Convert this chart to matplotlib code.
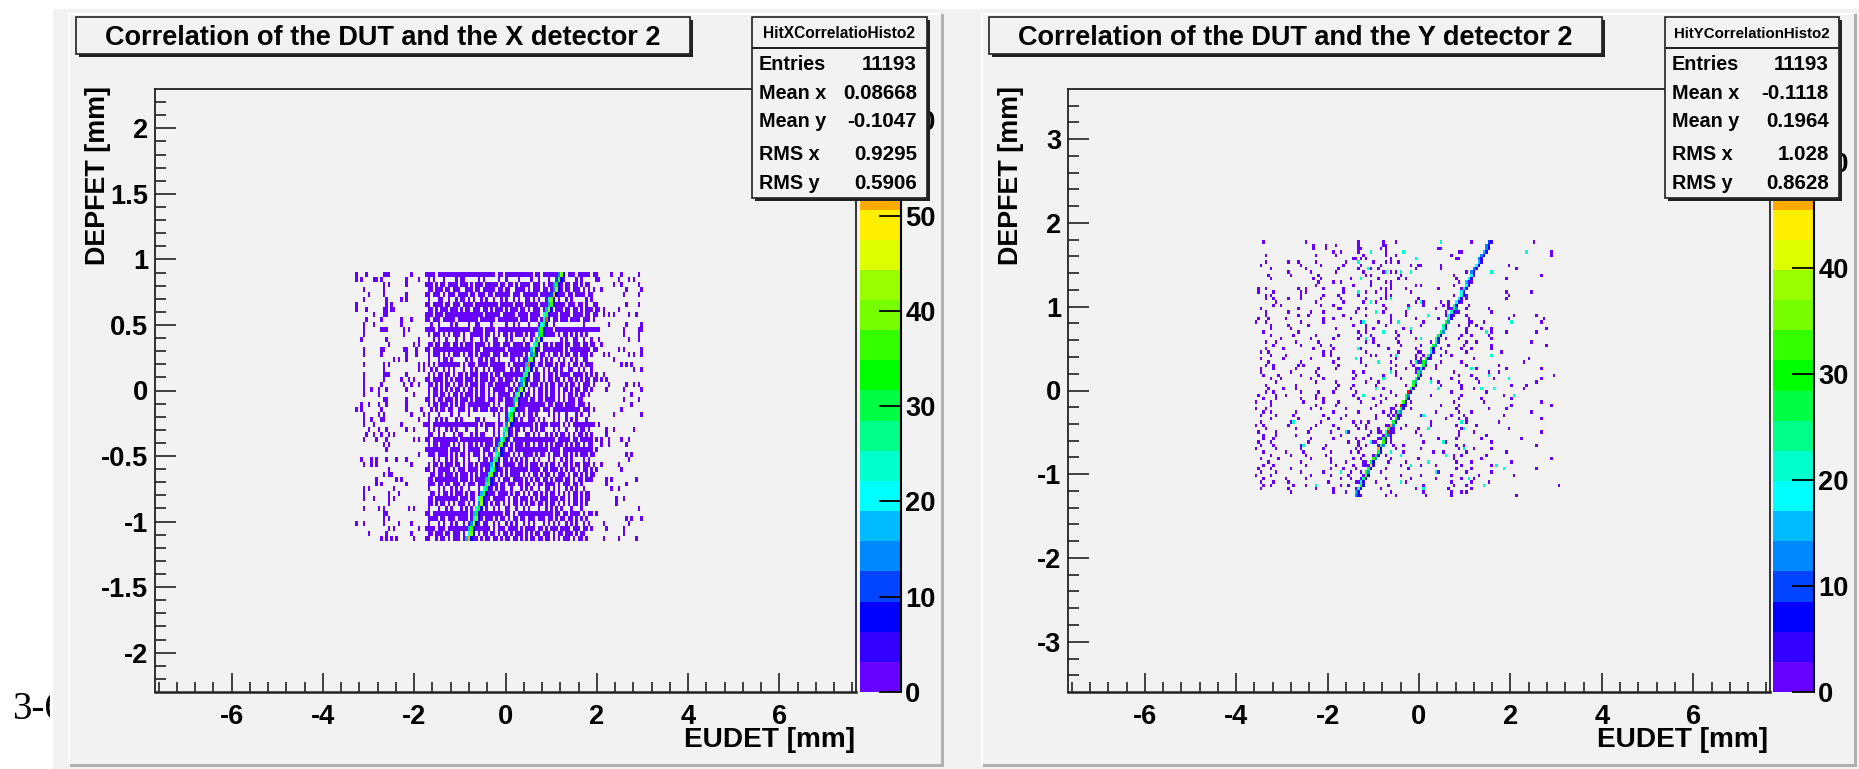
import numpy as np
import matplotlib
matplotlib.use("Agg")
import matplotlib.pyplot as plt
from matplotlib.colors import ListedColormap, BoundaryNorm
from matplotlib.patches import Rectangle

W, H = 1859, 769
GREY = "#f2f2f2"

palette = ["#6600ff", "#3300ff", "#0000ff", "#0044ff", "#0088ff", "#00bbff", "#00ffff",
           "#00ffcc", "#00ff88", "#00ff44", "#00ff00", "#33ff00", "#77ff00", "#99ff00",
           "#ddff00", "#ffee00", "#ffaa00", "#ff7700", "#ff4400", "#ff0000"]

# left histogram, one string per row from the top: outer left | core | outer right
x_rows = [
    "#...#......###........#.....|####.#######################.##.###########.##.#######.#.###.#####.###|.....#...#......#.",
    "#.#....##.#.........#....#..|.#.#...#....#.##.....#.#.....#..#....#....#..#...#.....#....#.#.....#.|#.......#...#.#...",
    "...........#.#......#.......|###.#.##.####.###.#.###.#####.##.##.#.####.###.#.####.#.##.##.#.##....|......#..#......#.",
    "...#.......#................|.##.###.##.###..###.##.#####.##.##..####.#.###.##.#.###.##.###.#.#.#..|.#.........#.....#",
    ".....#.....#........#.......|##.###.#.###.####.##.###.##.######.###.######.#####.####.##.####.##...|..........#.....#.",
    "...#........#.....#.#.......|.#...##..#..#.##.#.#..#.#..#..#.#..#.#..##.#.#..#.#..#..#.#.....#.#...|.................",
    "#...........#.#.............|##.####.##.###.####.#########.#####.###.#####.###.#.####.###.##.#..##.|...........#....#.",
    "#...#......##.##............|.##.#.###.###.#.##.###.##.#.###.#.###.##.#.###.##.#.###.##.##.#.###.#.|#.#.....#.........",
    ".......#...##...............|###.###.###############.######.#####.####.####.######.####.####.##.##.|..#.#.#.....#..#.",
    "....#.....#.......#...#.....|##.###.#####.########.######.########.###.###.####.##.###.####.###.#..|..................",
    "...#...#..........#.........|..#..#....#.#....#..##....#.....#..#.#...#...#.....#...........#.....#|....#......#.....#",
    "...#......###......#.#......|####.#############.####.####.##################.###.####################|#.........#.....##",
    "...#...............#........|.#.###.#.#.###.#..#####.##.#.#.##.#.###.#.##..#.####.#.##.#.#.#.#.....|..........#.....#.",
    "..#.........#............#..|...#.#..#...#..#..#...#.#..##...#.#....#..#.#.#.......#.#..##..#..#...|#...........#...#.",
    ".............#.........#.#..|.##.##.###.##.#.###.####.#.###.###.####.##.###.##.#.###.##.###.##.##..|.#................",
    "...#......##.......##...#...|##.################.##.#########.#############.########.#.########.##|........#.#......#",
    "...#......#.........#...#...|.#.###.#.#.###.#.##.#.####.###.##.#####.#.###.##.#.##.#.##.##.###.#...|..#.#.......#.#..#",
    "...............#.#..#.......|.#...#.##.#.....#.#..##.#.##.#....##.#.##.#...#.#.#..#.#..#.#..##.....|......#...........",
    "...#.......#.#...........#.#|.#.#.#########.#.###.####.######.#.#######.#.##.###.#.##.#.##.#.###...|.........#.#.#....",
    "...........#.............#.#|..#.#..#.#.#...#..#.#..#.#.#####..#.##.#.#..#..#.#.##.#..##..#.#..#...|..............#..#",
    "...#.......###......#.......|.#.#.##.##.#.##.#.###.###.#.##.###########.###.#.##.#.####.####.#.#.#.|..#...............",
    "...#.......#......#..#.#....|##.####.#.#.###.###.#.###.##.##.###.#.####.###.#.##.##.#.##.#.#.##.##.|.#.#..............",
    "...#......#........#..#..#..|.##.#.#.##.#.##.#.###.##.##.######.#.##.#.###.#.#.##.##.#.##.#.###.#..|....#......#..#.#.",
    "...#..#..#..#.......#.......|.#.##.#.#.#.##.#.##.#.##.#.#####.##.#.##.#.#.##.#.##.#.##.#.##.##.#...|...#......#......#",
    "...#.....#.............#....|.#.##.##.#.##.#.###.#.##.#.#.#####.#.##.##.#.##.#.##.#.#.##.#.##.#....|.............#....",
    "...........##.......#.......|##.#.##.###.#.###.#.####.###.##.####.####.##.##.####.#.#.###.##.......|..........#.....#.",
    "..#..#...#..#.......#.......|.#.##.###.#.#.##.#########.#.#..####.###########.##.###.####.###.#....|.............#....",
    "#.#.......#.........#.....#.|..#.#.##.##..###.#.##.###.###.#.#.######.#####.###.###########.###.#..|.........#........",
    "...#.....#.#..........#....#|.#...#....#..#...#.........#.#..#.#..#.#.##.#....#.#.#..#...#.#..#....|......#..........#",
    "...#..#...##.............#..|.#..#.#.#...#.#.....##.#.....#..#.#.#.#..###.#.#...#.#..#.#.#...#.....|..................",
    "...#...#..........#........#|##.##################.#.####.##.###########.#.###.####.#.#.#########.#.|#.................",
    ".....#...#..#.......#..#....|.#.#.#..#.#.#...#...#...#..#.#..#.#.##.#..#.#.##...#.#..#...#.##.#....|...#..#.......#...",
    "....#..#..#..#.#............|.##..#.#...#.##...#.#.##...#.#.#.##.#...##.#.#..#.#.#.##.#.#.##.#.#...|...#..............",
    "...#....#...#..........#.#..|##.##########.#############.####.#.#################.#####.##.#####.##|.#..#....#..#.....",
    "...........#.#..............|.#.##.####.#.#.#.##.#.#.###.##.##.#.###.##.#.##.#.#.###.#.#.##.#.##...|.#..#......#......",
    "............#...............|#########.####.#.#####.###.#.###.##.#############.####.############.##|..................",
    ".........................#..|.###.####.#.#.##.#.###.#.##.#.####.#.#.####.#.##.#.###.##.#.#.###.##..|...........#.#....",
    "..#...#.#...#...#...#.......|...#.#..#.#.#..#.#...#.##.#....##.#.#.#.#..#.#...#.#..#.#.#....#.#....|............#.....",
    "...#..#.#.............#.....|.#.##.#.###.##.#.##.#.####.#.#.#####.##.#.###.#.#.##.#.##.#.##.###.#..|.#......#.........",
    ".............#..............|##.#.#####.#.###.####.#.###.###.#.#######.####.##.###.#.#.##.#.##.#.##|.........#........",
    "...........#.##.............|..##.##.###.#.###.#.#.####.##.#.#.####.#.#.##.#.##.#.###.#.##.#.#.##..|..................",
    "........#.......#.#.........|.##.#########.###.#.########.#.###.####.#.#.##.##.#.###.##.#.##.###...|...#.#.........#..",
    "........#.#.........#.......|.###.##.##.###.#.###.###.#.##.##.###.##.##.#.##.####.#.###.##.#.......|...#.......#......",
    "...#.#.........#............|.#...#.#..#.#.#..#...#.##.#.#.##..#...#.#.#..#..##.#.#..#.#.#..#......|.....#..#.........",
    "...#.........#...#..........|..##.#.##.#.###.#.##.#.#####.####.#.##.#.#.##.#.#.##.#.#.#.##.#.##....|..................",
    "...#...#.....#.#............|.##.#########.###.##.#####.#####.#.##.###.#.#.###.###.##.#.##.#.##....|.......#..#.......",
    ".............#..............|.##.#.##.#.#.###.#.#.##.#.#.##.#.#.##.#.#.##.##.#.##.#.#.#.##.#.#.....|.......#..........",
    "...#.....#.#.........#.#....|.#...#..#.#...#.#.#.....#..#.#..##..#..#.#...#..#.#.#.#...#...#.......|................#.",
    "...........##...............|##.##############.#.###########.##.#.##############.##.##.####.#.##.#.|..................",
    "...........#.#..............|.####.##.###.####.#.###.###.#.##.#.##.##.###.###.##.#.##.##.#.#.#.....|...........#.#...#",
    "#..#.......#.....#....#.....|.#...#.#..#.#..#.#...#.##..#.#..#.#.#..#.#.#...#.#.#.#..#.#.#..#.#....|..#.........#.....",
    ".............#.#.........#..|####.###.#################.#.###.####.#.####.##.#.###.####.###.##.#..#|...#......#.......",
    ".....#......#.........#.....|.##.###.##.###.#.###.#.##.##.#.##.#.###.#.#.##.###.#.##.###.#.##......|..........#.......",
    "..........#.#.#.#......#....|##..#.##.#.###.#.#.##.#.##.##.#.##.##.#.#.##.##.##.#.#.###.#.##.#.....|..#.....#......#..",
]

# ridge of the left histogram, per row from the top
x_ridge_col = [82, 81, 80, 80, 79, 78, 78, 77, 76, 76, 75, 74, 74, 73, 72, 71, 71, 70, 69, 69,
               68, 67, 67, 66, 65, 64, 64, 63, 62, 62, 61, 60, 60, 59, 58, 57, 57, 56, 55, 55,
               54, 53, 53, 52, 51, 50, 50, 49, 48, 48, 47, 46, 46, 45]
x_ridge_val = [40, 37, 34, 42, 52, 38, 35, 40, 36, 60, 30, 37, 34, 42, 36, 40, 34, 38, 55, 36,
               35, 33, 40, 44, 38, 35, 50, 36, 33, 40, 50, 36, 42, 33, 38, 50, 34, 36, 42, 33,
               38, 36, 40, 33, 36, 38, 42, 34, 33, 38, 42, 36, 40, 52]
x_ridge_side = [14, 12, 18, 14, 12, 20, 18, 16, 20, 22, 20, 18, 16, 18, 20, 18, 14, 20, 18, 20,
                20, 18, 14, 16, 20, 18, 14, 20, 20, 18, 14, 20, 18, 20, 16, 18, 20, 20, 18, 20,
                20, 18, 20, 20, 16, 20, 14, 20, 18, 20, 14, 18, 20, 16]

# right histogram, scattered single hits, column lists per row (first entry is row 6)
y_hits = [
    [9, 26, 47, 57, 62, 92, 117],
    [29, 34, 38, 47, 57, 58],
    [29, 34, 47, 48, 56, 58, 79, 80],
    [37, 40, 47, 58, 87, 88, 124],
    [10, 30, 38, 49, 58, 62, 84, 124],
    [45, 46, 48, 50, 60, 86, 87],
    [10, 19, 23, 30, 42, 53, 58, 60, 63],
    [8, 24, 32, 41, 48, 56, 68, 71, 72, 80, 107],
    [12, 26, 39, 47, 52, 55, 70, 80, 110],
    [19, 28, 38, 49, 57, 60, 62, 68, 90],
    [11, 20, 31, 50, 52, 64, 85, 120],
    [12, 29, 32, 44, 48, 55, 63, 66, 86, 91, 106],
    [31, 37, 40, 52, 58, 60, 87, 92],
    [30, 45, 52, 60, 70, 72, 85],
    [7, 10, 23, 26, 33, 41, 56, 58, 60, 66, 79, 88, 90],
    [7, 13, 24, 26, 41, 50, 54, 58, 68, 106, 116],
    [10, 12, 24, 33, 39, 47, 58, 60, 85, 90, 107],
    [10, 13, 19, 24, 32, 40, 50, 56, 58, 71, 90, 106],
    [14, 30, 41, 49, 54, 70, 73, 80, 83, 86, 88],
    [13, 16, 32, 37, 57, 67, 73, 81, 83, 86, 91],
    [8, 23, 39, 40, 47, 50, 58, 67, 78, 84, 90, 99],
    [10, 19, 28, 33, 46, 57, 66, 82, 85, 87, 100],
    [10, 23, 27, 41, 50, 60, 66, 82, 90, 109, 118],
    [7, 11, 18, 33, 37, 44, 60, 70, 79, 91, 107, 121],
    [6, 10, 24, 33, 48, 55, 60, 73, 91, 92, 97, 120],
    [12, 19, 27, 45, 50, 58, 72, 81, 87, 91, 94],
    [12, 20, 38, 50, 53, 65, 81, 90, 96, 100, 122],
    [9, 23, 47, 50, 62, 68, 80, 90, 100, 106, 118],
    [12, 21, 30, 39, 48, 52, 63, 79, 88, 92, 99],
    [16, 28, 37, 47, 53, 62, 70, 82, 87, 100],
    [10, 14, 22, 31, 50, 53, 63, 76, 90, 94, 116],
    [13, 24, 32, 36, 55, 64, 72, 83, 89, 100, 122],
    [10, 17, 29, 37, 48, 59, 70, 80, 88, 92, 100],
    [8, 11, 33, 36, 50, 63, 72, 82, 90, 104],
    [12, 18, 33, 36, 52, 54, 60, 70, 80, 84],
    [8, 17, 28, 39, 48, 62, 70, 76, 93, 115],
    [11, 24, 37, 48, 60, 68, 80, 88, 113],
    [10, 13, 23, 25, 39, 50, 62, 69, 78, 90, 103],
    [8, 13, 22, 31, 38, 60, 66, 78, 94, 106, 120],
    [8, 20, 30, 45, 49, 62, 70, 85, 99, 103],
    [9, 15, 24, 31, 46, 57, 62, 71, 87, 92, 125],
    [12, 16, 28, 33, 45, 52, 64, 76, 84, 94, 101, 120],
    [14, 30, 38, 50, 55, 70, 79, 87, 95, 118],
    [10, 22, 39, 45, 54, 66, 80, 88, 108, 114],
    [11, 17, 22, 38, 44, 57, 68, 88, 93, 113],
    [10, 13, 24, 31, 37, 46, 60, 68, 84, 98],
    [7, 14, 18, 30, 45, 56, 62, 76, 88, 105],
    [9, 14, 24, 30, 33, 47, 53, 58, 66, 87, 96, 108],
    [6, 12, 25, 33, 39, 48, 56, 68, 85, 97, 120],
    [12, 30, 38, 54, 66, 80, 87, 108, 124],
    [6, 10, 28, 32, 42, 52, 68, 86, 99, 106],
    [9, 12, 22, 37, 47, 57, 60, 78, 87, 92, 116],
    [8, 14, 21, 33, 42, 54, 64, 72, 84, 89, 105],
    [12, 23, 35, 40, 54, 60, 62, 82, 87, 90, 120],
    [8, 20, 32, 45, 48, 51, 62, 76, 90, 103],
    [6, 9, 19, 30, 37, 46, 50, 66, 76, 86, 94],
    [10, 22, 28, 39, 47, 50, 55, 64, 71, 88, 107],
    [7, 14, 27, 36, 43, 52, 56, 70, 87, 93, 120],
    [9, 14, 22, 40, 51, 60, 72, 87, 98],
    [9, 13, 28, 37, 46, 49, 60, 79, 86, 96, 112],
    [7, 12, 27, 43, 47, 53, 60, 73, 82, 100],
    [8, 13, 24, 34, 47, 50, 61, 65, 86, 89, 118],
    [6, 14, 24, 33, 46, 48, 62, 72, 87, 93, 100],
    [9, 18, 25, 36, 44, 47, 65, 77, 81, 90, 106],
    [12, 20, 26, 34, 49, 53, 58, 64, 85, 88, 98],
    [8, 15, 28, 36, 45, 48, 60, 71, 85, 96, 124],
    [11, 24, 36, 42, 50, 59, 66, 86, 92, 108],
    [9, 13, 26, 38, 45, 51, 64, 72, 78, 88, 100],
    [7, 12, 20, 36, 41, 46, 58, 67, 86, 92, 118],
    [8, 14, 24, 33, 44, 48, 56, 79, 90, 100],
    [6, 12, 28, 36, 43, 50, 64, 72, 84, 95, 109],
    [9, 18, 26, 40, 44, 58, 68, 78, 88, 93],
    [8, 13, 19, 35, 47, 54, 66, 84, 92, 99],
    [9, 12, 21, 26, 40, 43, 59, 73, 85, 90, 127],
    [8, 19, 30, 37, 47, 56, 70, 83, 92],
    [20, 37, 42, 47, 60, 73, 84, 88, 90],
    [47, 48, 58, 62, 74, 84, 110],
]

# clumps of low counts hugging the right ridge
y_clump_col = [83, 84, 85, 86, 84, 85, 86, 87, 85, 86, 71, 72, 73, 74, 70, 71, 72, 73, 72, 71, 73, 72, 71,
               60, 61, 62, 63, 60, 61, 62, 59, 60, 58, 59, 60, 61, 61, 60, 59, 60, 55, 56, 57, 55, 56, 54, 55,
               56, 55, 49, 50, 51, 52, 50, 51, 49, 50, 48, 49, 46, 47, 48, 46, 47, 48, 47, 46, 47]
y_clump_row = [26, 26, 26, 26, 27, 27, 27, 27, 28, 25, 42, 42, 43, 43, 44, 44, 44, 44, 45, 46, 40, 41, 39,
               56, 56, 57, 57, 57, 58, 55, 58, 59, 61, 61, 62, 62, 63, 63, 64, 65, 63, 63, 64, 65, 65, 66, 67,
               68, 69, 73, 73, 74, 74, 75, 75, 76, 76, 77, 72, 78, 78, 79, 80, 80, 80, 81, 82, 82]

# right histogram, cells of a higher count scattered around the ridge (cyan ones)
y_cyan_col = [80, 52, 65, 70, 47, 51, 48, 58, 64, 68, 100, 114, 47, 52, 60, 72, 54, 67, 75, 49,
              63, 68, 57, 72, 98, 108, 50, 47, 62, 55, 100, 46, 60, 70, 92, 99, 107, 57, 54, 76,
              101, 49, 79, 96, 109, 21, 25, 62, 73, 88, 89, 52, 58, 75, 81, 42, 60, 64, 75, 82,
              68, 102, 78, 91, 30, 89, 97, 40, 64, 73, 105]
y_cyan_row = [6, 9, 9, 11, 12, 14, 17, 15, 15, 15, 15, 9, 21, 24, 23, 24, 27, 26, 28, 30,
              30, 32, 33, 35, 33, 30, 35, 38, 40, 42, 40, 41, 45, 42, 44, 46, 47, 47, 50, 48,
              50, 52, 50, 50, 52, 60, 67, 55, 58, 60, 62, 66, 63, 62, 66, 63, 69, 70, 72, 70,
              73, 73, 75, 77, 79, 68, 79, 75, 78, 80, 74]

# ridge of the right histogram, per row starting at row 6
y_ridge_col = [99, 98, 98, 97, 96, 95, 95, 94, 93, 92, 92, 91, 90, 90, 89, 88, 88, 87, 86, 85,
               85, 84, 83, 83, 82, 81, 81, 80, 79, 78, 78, 77, 76, 76, 75, 74, 73, 73, 72, 71,
               71, 70, 69, 69, 68, 67, 66, 66, 65, 64, 64, 63, 62, 62, 61, 60, 59, 59, 58, 57,
               57, 56, 55, 55, 54, 53, 52, 52, 51, 50, 50, 49, 48, 48, 47, 46, 46]
y_ridge_val = [9, 12, 14, 16, 14, 12, 16, 18, 14, 12, 18, 20, 16, 18, 20, 18, 22, 20, 18, 22,
               26, 20, 18, 22, 28, 24, 22, 26, 28, 24, 22, 28, 26, 22, 24, 28, 30, 26, 22, 28,
               30, 24, 28, 32, 26, 55, 28, 26, 32, 55, 28, 26, 32, 28, 26, 47, 32, 55, 28, 26,
               32, 28, 47, 26, 28, 32, 26, 40, 28, 26, 32, 24, 22, 26, 20, 16, 12]
y_ridge_side = [4, 5, 6, 4, 6, 5, 4, 6, 5, 4, 6, 5, 4, 6, 5, 7, 6, 4, 5, 6,
                12, 7, 5, 4, 12, 5, 7, 12, 6, 5, 4, 12, 6, 5, 4, 6, 12, 5, 4, 12,
                5, 7, 12, 6, 5, 7, 12, 6, 5, 7, 4, 12, 5, 4, 7, 12, 5, 4, 12, 7,
                5, 12, 6, 7, 5, 12, 6, 5, 7, 12, 6, 5, 4, 7, 6, 5, 4]

x_ticks = [-6, -4, -2, 0, 2, 4, 6]
left_y_ticks = [-2, -1.5, -1, -0.5, 0, 0.5, 1, 1.5, 2]
left_y_labels = ["-2", "-1.5", "-1", "-0.5", "0", "0.5", "1", "1.5", "2"]
right_y_ticks = [-3, -2, -1, 0, 1, 2, 3]

left_stats = [("Entries", "11193"), ("Mean x", "0.08668"), ("Mean y", "-0.1047"),
              ("RMS x", "0.9295"), ("RMS y", "0.5906")]
right_stats = [("Entries", "11193"), ("Mean x", "-0.1118"), ("Mean y", "0.1964"),
               ("RMS x", "1.028"), ("RMS y", "0.8628")]
stat_rows_px = [63, 92, 120, 153, 182]


def fx(px):
    return px / W


def fy(py):
    return 1 - py / H


def box(x0, y0, x1, y1, fc, ec="none", lw=0, z=1):
    fig.add_artist(Rectangle((fx(x0), fy(y1)), (x1 - x0) / W, (y1 - y0) / H, transform=fig.transFigure,
                             facecolor=fc, edgecolor=ec, linewidth=lw, zorder=z))


def axes_px(x0, y0, x1, y1, z=3):
    ax = fig.add_axes([fx(x0), fy(y1), (x1 - x0) / W, (y1 - y0) / H], zorder=z)
    ax.patch.set_visible(False)
    return ax


def label(x, y, s, size=20.2, ha="left", va="baseline", rot=0, z=8, weight="bold", fam="Liberation Sans", color="black"):
    fig.text(fx(x), fy(y), s, fontsize=size, ha=ha, va=va, rotation=rot, zorder=z, fontweight=weight,
             family=fam, color=color)


def style_hist(ax, ylim, yticks, ylabels, yminor):
    ax.set_xlim(-7.68, 7.68)
    ax.set_ylim(*ylim)
    ax.set_xticks(x_ticks)
    ax.set_xticklabels([str(t) for t in x_ticks], fontsize=19.6, fontweight="bold", family="Liberation Sans")
    ax.set_xticks(np.arange(-7.6, 7.7, 0.4), minor=True)
    ax.set_yticks(yticks)
    ax.set_yticklabels(ylabels, fontsize=19.6, fontweight="bold", family="Liberation Sans")
    ax.set_yticks(yminor, minor=True)
    ax.tick_params(axis="x", which="major", direction="in", length=14, width=1.2, pad=9, color="#222222")
    ax.tick_params(axis="x", which="minor", direction="in", length=7, width=1.2, color="#222222")
    ax.tick_params(axis="y", which="major", direction="in", length=15, width=1.2, pad=5, color="#222222")
    ax.tick_params(axis="y", which="minor", direction="in", length=8, width=1.2, color="#222222")
    ax.spines["top"].set_linewidth(1.3)
    ax.spines["left"].set_linewidth(1.3)
    ax.spines["bottom"].set_linewidth(1.8)
    ax.spines["right"].set_linewidth(1.3)
    for s in ax.spines.values():
        s.set_color("#222222")


def colour_bar(x0, x1, vmax, ticks):
    ax = axes_px(x0, 89, x1, 692)
    edges = np.linspace(0, vmax, len(palette) + 1)
    ax.pcolormesh([0, 1], edges, np.arange(len(palette)).reshape(-1, 1), cmap=ListedColormap(palette),
                  vmin=-0.5, vmax=len(palette) - 0.5)
    ax.set_xlim(0, 1)
    ax.set_ylim(0, vmax)
    ax.set_xticks([])
    ax.set_yticks(ticks)
    ax.yaxis.tick_right()
    ax.set_yticklabels([str(t) for t in ticks], fontsize=19.6, fontweight="bold", family="Liberation Sans", zorder=3)
    ax.tick_params(axis="y", direction="in", length=16, width=1.3, pad=3, color="black")
    for name in ["top", "left", "bottom"]:
        ax.spines[name].set_visible(False)
    ax.spines["right"].set_linewidth(1.5)
    return ax


fig = plt.figure(figsize=(W / 100, H / 100), dpi=100, facecolor=GREY)

# page around the two canvases
box(0, 0, 50, H, "white", z=0.4)
label(12, 719, "3-6", size=28, fam="Liberation Serif", weight="normal", z=0.45)
box(0, 0, W, 9, "white", z=2)
box(50, 9, 53, H, "white", z=2)
box(53, 9, W, H, GREY, z=0.5)
for xa, xb in [(68, 944), (981, 1857)]:
    box(xa, 13, xb - 3, 15, "white", z=2)
    box(xa, 13, xa + 2, 765, "white", z=2)
    box(xb - 3, 14, xb, 767, "#b0b0b0", z=2)
    box(xa + 2, 764, xb, 767, "#b0b0b0", z=2)

# left histogram
left_max = 63.3
left_norm = BoundaryNorm(np.linspace(0, left_max, len(palette) + 1), len(palette))
ax1 = axes_px(155, 89, 856, 692)
x_counts = np.zeros((len(x_rows), 115))
for r, line in enumerate(x_rows):
    for off, width, part in zip([0, 28, 97], [28, 69, 18], line.split("|")):
        for c, ch in enumerate(part[:width]):
            if ch == "#":
                x_counts[r, off + c] = 1
for r, (c, v, s) in enumerate(zip(x_ridge_col, x_ridge_val, x_ridge_side)):
    x_counts[r, c] = v
    x_counts[r, c - 1] = s
    x_counts[r, c + 1] = 8
x_xe = -3.296 + 0.0548 * np.arange(116)
x_ye = 0.906 - 0.0381 * np.arange(len(x_rows) + 1)
ax1.pcolormesh(x_xe, x_ye, np.ma.masked_equal(x_counts, 0), cmap=ListedColormap(palette), norm=left_norm)
style_hist(ax1, (-2.3, 2.3), left_y_ticks, left_y_labels, np.arange(-2.2, 2.3, 0.1))

# right histogram
right_max = 56.9
right_norm = BoundaryNorm(np.linspace(0, right_max, len(palette) + 1), len(palette))
ax2 = axes_px(1068, 89, 1770, 692)
y_counts = np.zeros((84, 130))
for r, cols in enumerate(y_hits):
    for c in cols:
        y_counts[r + 6, c] = 1
for c, r in zip(y_cyan_col, y_cyan_row):
    y_counts[r, c] = 20
for c, r in zip(y_clump_col, y_clump_row):
    y_counts[r, c] = 2
for r, (c, v, s) in enumerate(zip(y_ridge_col, y_ridge_val, y_ridge_side)):
    y_counts[r + 6, c] = v
    y_counts[r + 6, c + 1] = s
y_xe = -3.925 + 0.0548 * np.arange(131)
y_ye = 2.03 - 0.0398 * np.arange(85)
ax2.pcolormesh(y_xe, y_ye, np.ma.masked_equal(y_counts, 0), cmap=ListedColormap(palette), norm=right_norm)
style_hist(ax2, (-3.6, 3.6), right_y_ticks, [str(t) for t in right_y_ticks], np.arange(-3.4, 3.5, 0.2))

colour_bar(860, 901, left_max, [0, 10, 20, 30, 40, 50, 60])
colour_bar(1773, 1814, right_max, [0, 10, 20, 30, 40, 50])

# titles
for x0, x1, txt in [(76, 690, "Correlation of the DUT and the X detector 2"),
                    (989, 1602, "Correlation of the DUT and the Y detector 2")]:
    box(x0 + 3, 20, x1 + 3, 57, "#222222", z=5)
    box(x0, 17, x1, 54, GREY, ec="#222222", lw=1.2, z=6)
    label((x0 + x1) / 2, 45, txt, size=19.5, ha="center", z=7)

# stats boxes
for x0, x1, head, stats, hsize in [(752, 927, "HitXCorrelatioHisto2", left_stats, 11.2),
                                   (1665, 1839, "HitYCorrelationHisto2", right_stats, 10.8)]:
    box(x0 + 3, 20, x1 + 3, 201, "#222222", z=5)
    box(x0, 17, x1, 198, GREY, ec="#222222", lw=1.2, z=6)
    box(x0, 47, x1, 48.5, "#222222", z=7)
    label((x0 + x1) / 2, 38, head, size=hsize, ha="center", z=7)
    for y, (k, v) in zip(stat_rows_px, stats):
        label(x0 + 7, y + 7, k, size=14.2)
        label(x1 - 10, y + 7, v, size=14.8, ha="right")

# axis titles
label(855, 747, "EUDET [mm]", ha="right")
label(1768, 747, "EUDET [mm]", ha="right")
label(111, 86, "DEPFET [mm]", size=19.4, rot=90, va="top", ha="right")
label(1024, 86, "DEPFET [mm]", size=19.4, rot=90, va="top", ha="right")

fig.savefig("out.png", dpi=100, facecolor=fig.get_facecolor())
